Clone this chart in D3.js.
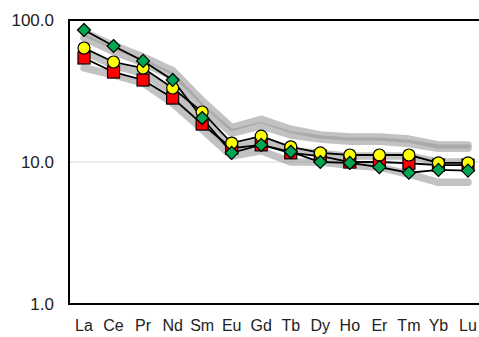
<!DOCTYPE html>
<html><head><meta charset="utf-8">
<script src="https://cdn.jsdelivr.net/npm/d3@7"></script>
<style>body{margin:0;background:#fff;} svg{display:block;}</style>
</head><body><svg id="c" width="479" height="337"></svg>
<script>
const categories = ["La","Ce","Pr","Nd","Sm","Eu","Gd","Tb","Dy","Ho","Er","Tm","Yb","Lu"];
const yTicks = [1, 10, 100];
const redSeries    = [54, 43, 37.8, 28.2, 18.5, 12.5, 13.2, 11.6, 11.0, 10.0, 10.0, 9.8, 9.5, 9.5];
const yellowSeries = [63.5, 50.6, 45.9, 33.2, 22.5, 13.6, 15.2, 12.8, 11.6, 11.2, 11.2, 11.2, 9.85, 9.85];
const greenSeries  = [85, 65.6, 51.5, 37.8, 20.4, 11.6, 13.2, 11.8, 10.0, 9.85, 9.2, 8.4, 8.8, 8.7];
const grayA = [82, 66, 55, 44, 27, 17.5, 20, 17, 15.5, 15, 15, 14.5, 13.2, 13.2];
const grayB = [75, 60, 50, 40, 24, 16, 18, 15.5, 14.5, 14, 14, 13.5, 12.5, 12.5];
const grayC = [60, 48, 42, 31, 20, 12.5, 14, 12, 11.5, 11, 11, 11, 10, 10];
const grayD = [46, 41, 36, 26, 17, 11, 12, 10, 10, 9.5, 9.2, 8.2, 7.2, 7.2];

const svg = d3.select("#c");
const L = 69, T = 20, B = 304, R = 482;
const x = d3.scalePoint().domain(categories).range([84, 468]);
const y = d3.scaleLog().domain([1, 100]).range([B, T]);

svg.append("g").selectAll("line").data([10]).join("line")
  .attr("x1", L).attr("x2", R).attr("y1", d => y(d)).attr("y2", d => y(d))
  .attr("stroke", "#d9d9d9").attr("stroke-width", 1);

const line = d3.line().x((d, i) => x(categories[i])).y(d => y(d));

[grayA, grayB, grayC, grayD].forEach(s => {
  svg.append("path").attr("d", line(s)).attr("fill", "none")
    .attr("stroke", "#999").attr("stroke-opacity", 0.6)
    .attr("stroke-width", 7.5).attr("stroke-linejoin", "round").attr("stroke-linecap", "round");
});

[redSeries, yellowSeries, greenSeries].forEach(s => {
  svg.append("path").attr("d", line(s)).attr("fill", "none")
    .attr("stroke", "#000").attr("stroke-width", 1.8);
});

svg.append("g").selectAll("rect").data(redSeries).join("rect")
  .attr("x", (d, i) => x(categories[i]) - 6).attr("y", d => y(d) - 6)
  .attr("width", 12).attr("height", 12)
  .attr("fill", "#ff0000").attr("stroke", "#000").attr("stroke-width", 1.2);
svg.append("g").selectAll("circle").data(yellowSeries).join("circle")
  .attr("cx", (d, i) => x(categories[i])).attr("cy", d => y(d)).attr("r", 6)
  .attr("fill", "#ffff00").attr("stroke", "#000").attr("stroke-width", 1.2);
const dsz = 6.5;
svg.append("g").selectAll("path").data(greenSeries).join("path")
  .attr("transform", (d, i) => `translate(${x(categories[i])},${y(d)})`)
  .attr("d", `M0,${-dsz}L${dsz},0L0,${dsz}L${-dsz},0Z`)
  .attr("fill", "#00a651").attr("stroke", "#000").attr("stroke-width", 1.2);

svg.append("rect").attr("x", L).attr("y", T).attr("width", R - L).attr("height", B - T)
  .attr("fill", "none").attr("stroke", "#000").attr("stroke-width", 2);

svg.append("g").selectAll("text").data(yTicks).join("text")
  .attr("x", 54).attr("y", d => y(d)).attr("dy", "0.35em")
  .attr("text-anchor", "end")
  .attr("font-family", "Liberation Sans, Arial, sans-serif").attr("font-size", 17)
  .attr("fill", "#222").text(d => d.toFixed(1));

svg.append("g").selectAll("text").data(categories).join("text")
  .attr("x", d => x(d)).attr("y", 331)
  .attr("text-anchor", "middle")
  .attr("font-family", "Liberation Sans, Arial, sans-serif").attr("font-size", 16)
  .attr("fill", "#222").text(d => d);
</script></body></html>
